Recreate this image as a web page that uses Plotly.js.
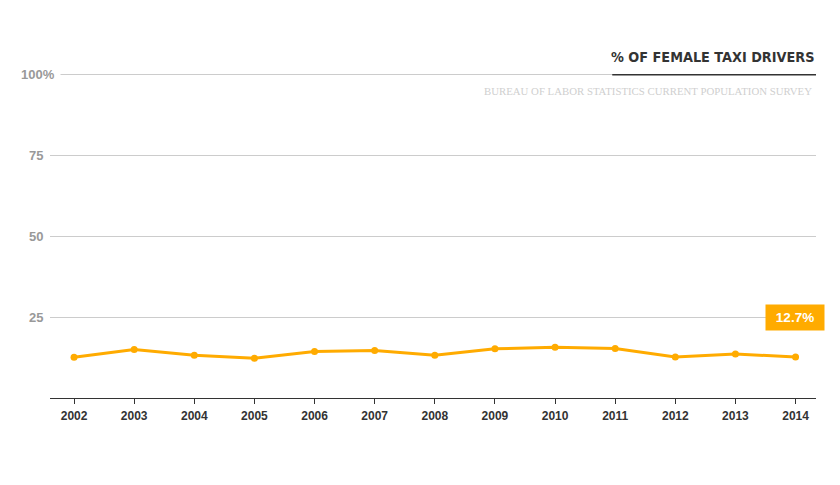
<!DOCTYPE html>
<html>
<head>
<meta charset="utf-8">
<script src="https://cdn.plot.ly/plotly-3.0.1.min.js"></script>
<style>
  html, body { margin: 0; padding: 0; background: #fff; }
  #graph { width: 840px; height: 485px; }
</style>
</head>
<body>
<div id="graph"></div>
<script>
// share of taxi drivers who are women, by year
var years = [2002, 2003, 2004, 2005, 2006, 2007, 2008, 2009, 2010, 2011, 2012, 2013, 2014]
var pctFemale = [12.6, 15.0, 13.2, 12.3, 14.4, 14.7, 13.2, 15.2, 15.7, 15.3, 12.7, 13.6, 12.7]

var yTickVals = [25, 50, 75, 100]
var yTickText = ["25", "50", "75", "100%"]

var titleText = "% OF FEMALE TAXI DRIVERS"
var sourceText = "BUREAU OF LABOR STATISTICS CURRENT POPULATION SURVEY"

var orange = "#ffab00"
var sans = "'Liberation Sans', Arial, sans-serif"

let trace1 = {
    x: years,
    y: pctFemale,
    type: "scatter",
    mode: "lines+markers",
    line: {color: orange, width: 3},
    marker: {color: orange, size: 7},
    hoverinfo: "skip"
}

var notes = []

// y labels sit left of the plot, "%" sticks out past the others
for (var i = 0; i < yTickVals.length; i++) {
    var isTop = yTickText[i].indexOf("%") >= 0
    notes.push({
        xref: "paper", yref: "y",
        x: 0, y: yTickVals[i],
        xanchor: "right", yanchor: "middle",
        xshift: isTop ? 11 : -6,
        text: yTickText[i],
        showarrow: false,
        bgcolor: isTop ? "#fff" : "rgba(0,0,0,0)",
        borderpad: isTop ? 5 : 0,
        font: {family: sans, size: 13, color: "#999", weight: "bold"}
    })
}

// last value flag
var last = pctFemale.length - 1
notes.push({
    xref: "x", yref: "y",
    x: years[last], y: 25,
    xanchor: "center", yanchor: "middle",
    xshift: -1,
    text: pctFemale[last].toFixed(1) + "%",
    showarrow: false,
    bgcolor: orange,
    width: 46, height: 13, borderpad: 6,
    font: {family: sans, size: 13.5, color: "#fff", weight: "bold"}
})

// title + source, top right
notes.push({
    xref: "paper", yref: "paper",
    x: 1, y: 1, xanchor: "right", yanchor: "middle",
    yshift: 8,
    text: titleText,
    showarrow: false,
    font: {family: "'Liberation Sans Narrow', 'DejaVu Sans Condensed', sans-serif", size: 14.3, color: "#333", weight: "bold"}
})
notes.push({
    xref: "paper", yref: "paper",
    x: 1, y: 1, xanchor: "right", yanchor: "middle",
    xshift: -2, yshift: -26,
    text: sourceText,
    showarrow: false,
    font: {family: "'Liberation Serif', 'Times New Roman', serif", size: 10.8, color: "#cfcfcf"}
})

var layout = {
    width: 840,
    height: 485,
    margin: {l: 50, r: 24.3, t: 64.8, b: 86.5, pad: 0},
    paper_bgcolor: "#fff",
    plot_bgcolor: "#fff",
    showlegend: false,
    xaxis: {
        range: [2001.6, 2014.34],
        tickvals: years,
        ticktext: years.map(String),
        showgrid: false,
        zeroline: false,
        showline: true,
        linecolor: "#333",
        linewidth: 1,
        ticks: "outside",
        ticklen: 5,
        tickcolor: "#333",
        ticklabelstandoff: 2,
        tickfont: {family: sans, size: 12, color: "#333", weight: "bold"}
    },
    yaxis: {
        range: [0, 103],
        tickvals: yTickVals,
        showticklabels: false,
        showgrid: true,
        gridcolor: "#cccccc",
        gridwidth: 1,
        zeroline: false,
        showline: false,
        fixedrange: true
    },
    shapes: [{
        type: "line",
        xref: "paper", yref: "y",
        x0: 0.734, x1: 1, y0: 100, y1: 100,
        line: {color: "#333", width: 1.5}
    }],
    annotations: notes
}

Plotly.newPlot("graph", [trace1], layout, {displayModeBar: false, staticPlot: true})
</script>
</body>
</html>
